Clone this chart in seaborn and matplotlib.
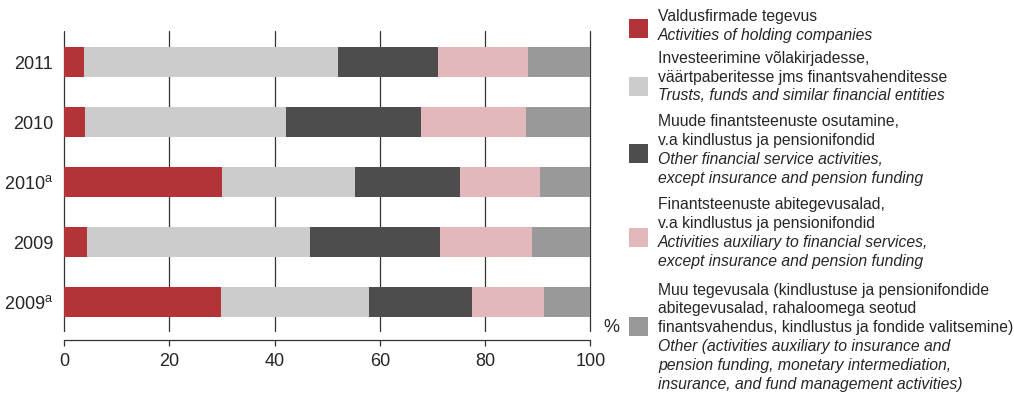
import numpy as np
import pandas as pd
import matplotlib
matplotlib.use("Agg")
import matplotlib.pyplot as plt
import seaborn as sns

# --- data (shares, %) ---
years = ["2011", "2010", "2010$^{\\mathrm{a}}$", "2009", "2009$^{\\mathrm{a}}$"]
holding = [3.8, 4.0, 30.0, 4.4, 29.8]
trusts = [48.3, 38.1, 25.3, 42.3, 28.1]
other_fin = [19.0, 25.7, 19.9, 24.7, 19.6]
auxiliary = [17.0, 19.9, 15.3, 17.5, 13.7]
other = [11.9, 12.3, 9.5, 11.1, 8.8]

colors = ["#B23438", "#CCCCCC", "#4D4D4D", "#E3B8BA", "#999999"]
legend_et = [
    ["Valdusfirmade tegevus"],
    ["Investeerimine võlakirjadesse,", "väärtpaberitesse jms finantsvahenditesse"],
    ["Muude finantsteenuste osutamine,", "v.a kindlustus ja pensionifondid"],
    ["Finantsteenuste abitegevusalad,", "v.a kindlustus ja pensionifondid"],
    ["Muu tegevusala (kindlustuse ja pensionifondide", "abitegevusalad, rahaloomega seotud",
     "finantsvahendus, kindlustus ja fondide valitsemine)"],
]
legend_en = [
    ["Activities of holding companies"],
    ["Trusts, funds and similar financial entities"],
    ["Other financial service activities,", "except insurance and pension funding"],
    ["Activities auxiliary to financial services,", "except insurance and pension funding"],
    ["Other (activities auxiliary to insurance and", "pension funding, monetary intermediation,",
     "insurance, and fund management activities)"],
]

sns.set_style("white")
plt.rcParams["font.family"] = ["Liberation Sans", "DejaVu Sans"]
plt.rcParams["mathtext.fontset"] = "custom"
plt.rcParams["mathtext.rm"] = "Liberation Sans"

W, H = 1014, 394
fig = plt.figure(figsize=(W / 100, H / 100), dpi=100)
# a little slack on both sides so the 0 and 100 gridlines are not clipped
ax = fig.add_axes([63 / W, 1 - 332 / H, (591.5 - 63) / W, (332 - 31) / H])

series = np.array([holding, trusts, other_fin, auxiliary, other])
cum = series.cumsum(axis=0)
# draw cumulative totals from the widest down so each segment sits on top
for i in range(len(series) - 1, -1, -1):
    df = pd.DataFrame({"year": years, "value": cum[i]})
    sns.barplot(data=df, x="value", y="year", orient="h", color=colors[i],
                width=0.51, saturation=1, linewidth=0, ax=ax, zorder=2)

ax.set_xlim(-0.19, 100.19)
ax.set_ylim(4.5, -0.52)
ax.set_xticks(range(0, 101, 20))
ax.xaxis.grid(True, color="#333333", linewidth=0.9, zorder=0)
ax.set_axisbelow(True)
ax.set_xlabel("")
ax.set_ylabel("")
sns.despine(ax=ax, left=True, offset={"bottom": 5.8}, trim=True)
ax.spines["bottom"].set_color("#333333")
ax.spines["bottom"].set_linewidth(0.9)
ax.tick_params(axis="x", bottom=True, length=4, width=0.9, color="#333333",
               labelsize=13, pad=5)
ax.tick_params(axis="y", left=False, length=0, labelsize=13, pad=7)
fig.text(603 / W, 1 - 327 / H, "%", fontsize=13, va="center", ha="left")

# legend, drawn by hand because labels mix upright and italic lines
starts = [16.7, 58.3, 121.7, 205, 290]
patch_y = [28.3, 86, 153.3, 237.3, 326.7]
step = 18.8
for k in range(5):
    lines = [(t, "normal") for t in legend_et[k]] + [(t, "italic") for t in legend_en[k]]
    for j, (t, st) in enumerate(lines):
        fig.text(658 / W, 1 - (starts[k] + j * step) / H, t, fontsize=11.3,
                 style=st, va="center", ha="left")
    fig.patches.append(plt.Rectangle((629 / W, 1 - (patch_y[k] + 9.5) / H), 19 / W, 19 / H,
                                     transform=fig.transFigure, facecolor=colors[k],
                                     edgecolor="none"))

plt.savefig("out.png", dpi=100)
plt.close()
